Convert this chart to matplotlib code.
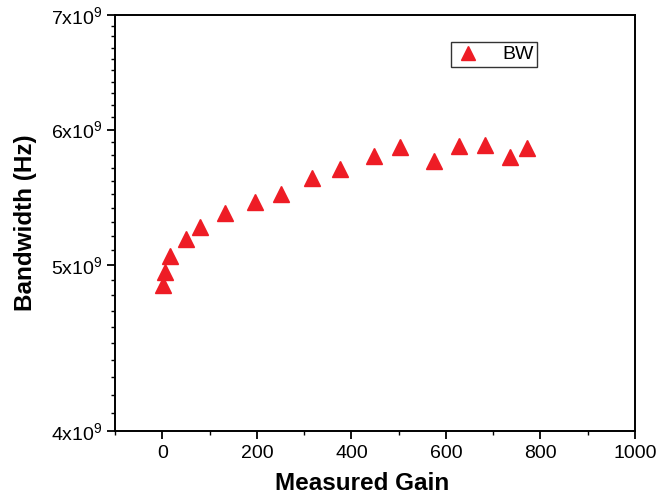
import matplotlib
matplotlib.use('Agg')
import matplotlib.pyplot as plt
from matplotlib.ticker import FixedLocator, FixedFormatter, MultipleLocator, NullFormatter

plt.rcParams['font.family'] = ['Liberation Sans', 'DejaVu Sans']
plt.rcParams['mathtext.default'] = 'regular'

# measured gain vs bandwidth
gain = [2, 6, 17, 49, 80, 133, 195, 252, 317, 376, 448, 502, 574, 628, 683, 735, 772]
bw = [4.865e9, 4.954e9, 5.064e9, 5.18e9, 5.26e9, 5.36e9, 5.44e9, 5.50e9, 5.62e9,
      5.69e9, 5.79e9, 5.86e9, 5.75e9, 5.87e9, 5.875e9, 5.78e9, 5.85e9]

yticks = [4e9, 5e9, 6e9, 7e9]
ytick_labels = ['4x10$^9$', '5x10$^9$', '6x10$^9$', '7x10$^9$']
yminor = [v * 1e8 for v in range(41, 70) if v % 10 != 0]

fig = plt.figure(figsize=(6.64, 4.98), dpi=100)
ax = fig.add_axes([0.1735, 0.1345, 0.7825, 0.8355])

ax.plot(gain, bw, linestyle='none', marker='^', markersize=11,
        color='#ee1c25', label='BW')

ax.set_yscale('log')
ax.set_ylim(4e9, 7e9)
ax.set_xlim(-100, 1000)

ax.yaxis.set_major_locator(FixedLocator(yticks))
ax.yaxis.set_major_formatter(FixedFormatter(ytick_labels))
ax.yaxis.set_minor_locator(FixedLocator(yminor))
ax.yaxis.set_minor_formatter(NullFormatter())
ax.xaxis.set_major_locator(MultipleLocator(200))
ax.xaxis.set_minor_locator(MultipleLocator(100))

ax.tick_params(axis='both', which='major', direction='out', length=6, width=1.3,
               labelsize=14, colors='black')
ax.tick_params(axis='both', which='minor', direction='out', length=3, width=1.0)
ax.tick_params(axis='x', pad=4)
ax.tick_params(axis='y', pad=3)

for s in ax.spines.values():
    s.set_linewidth(1.4)

ax.set_xlabel('Measured Gain', fontsize=17.5, fontweight='bold')
ax.xaxis.set_label_coords(0.475, -0.098)
ax.set_ylabel('Bandwidth (Hz)', fontsize=17.5, fontweight='bold', labelpad=10)

leg = ax.legend(loc='upper left', bbox_to_anchor=(0.647, 0.935), fontsize=14,
                frameon=True, fancybox=False, edgecolor='black', handlelength=1.3,
                handletextpad=1.1, borderpad=0.2, borderaxespad=0, markerscale=0.9)
leg.get_frame().set_linewidth(1.0)

fig.savefig('out.png', dpi=100)
